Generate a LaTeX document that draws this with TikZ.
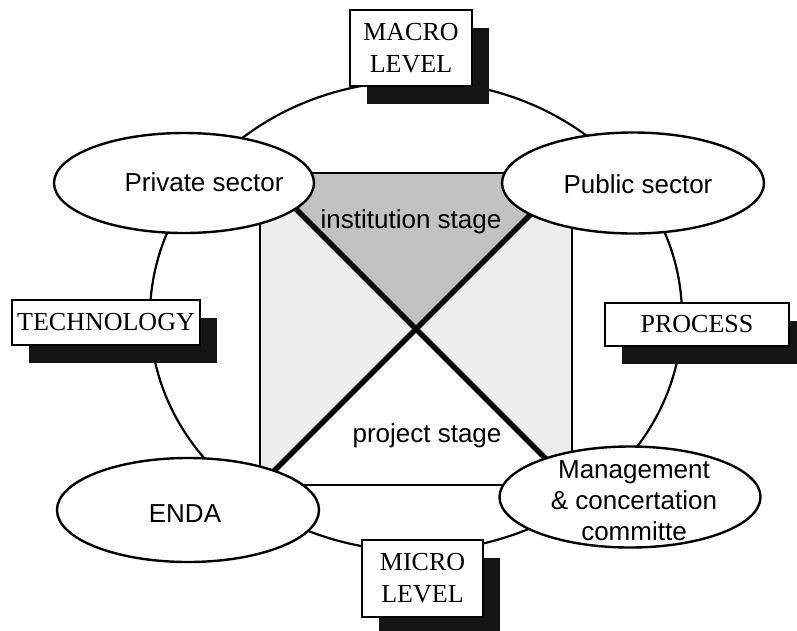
\documentclass[tikz,border=0pt]{standalone}
\usepackage{fontspec}
\setmainfont{Liberation Serif}
\setsansfont{Liberation Sans}
\usetikzlibrary{shapes.geometric,shadows}
\begin{document}
\begin{tikzpicture}[x=1pt,y=-1pt,
  oval/.style={ellipse, draw, line width=2.4pt, fill=white, inner sep=0pt},
  lbl/.style={font=\sffamily\fontsize{26}{31}\selectfont, align=center, inner sep=0pt},
  shbox/.style={draw, line width=2.4pt, fill=white, inner sep=0pt,
    font=\rmfamily\fontsize{26}{32}\selectfont, align=center,
    drop shadow={shadow xshift=17pt, shadow yshift=-18pt, fill=black!92, opacity=1}},
  ring/.style={line width=2.2pt},
  diag/.style={line width=5.5pt},
  frame/.style={line width=2pt}
]
\useasboundingbox (0,0) rectangle (797,630);

% central square
\coordinate (tl) at (260,173);
\coordinate (tr) at (572,173);
\coordinate (br) at (572,485);
\coordinate (bl) at (260,485);
\coordinate (mid) at (416,329);
\fill[gray!14] (tl) rectangle (br);
\fill[gray!48] (tl) -- (tr) -- (mid) -- cycle;
\fill[white] (bl) -- (br) -- (mid) -- cycle;
\draw[frame] (tl) -- (tr) -- (br) -- (bl) -- cycle;
\draw[diag] (tl) -- (br);
\draw[diag] (bl) -- (tr);

% outer ring
\draw[ring] (416,316) ellipse [x radius=266pt, y radius=235pt];

% boxes
\node[shbox, minimum width=122pt, minimum height=76pt] (macro) at (411,48) {MACRO\\LEVEL};
\node[shbox, minimum width=188pt, minimum height=45pt] (tech) at (106,322.5) {TECHNOLOGY};
\node[shbox, minimum width=184pt, minimum height=43pt] (proc) at (697,324.5) {PROCESS};
\node[shbox, minimum width=121pt, minimum height=77pt] (micro) at (422.5,578.5) {MICRO\\LEVEL};

% ellipses
\node[oval, minimum width=260pt, minimum height=100pt] (priv) at (184,183) {};
\node[oval, minimum width=262pt, minimum height=101pt] (pub) at (633,183) {};
\node[oval, minimum width=262pt, minimum height=104pt] (enda) at (188,510) {};
\node[oval, minimum width=261pt, minimum height=101pt] (mgmt) at (630,497) {};

\node[lbl] (privtxt) at (204,182) {Private sector};
\node[lbl] (pubtxt) at (638,184) {Public sector};
\node[lbl] (endatxt) at (185,514) {ENDA};
\node[lbl] (mgmttxt) at (634,501) {Management\\\& concertation\\committe};

\node[lbl] (inst) at (411,222) {institution stage};
\node[lbl] (proj) at (427,436) {project stage};
\end{tikzpicture}
\end{document}
